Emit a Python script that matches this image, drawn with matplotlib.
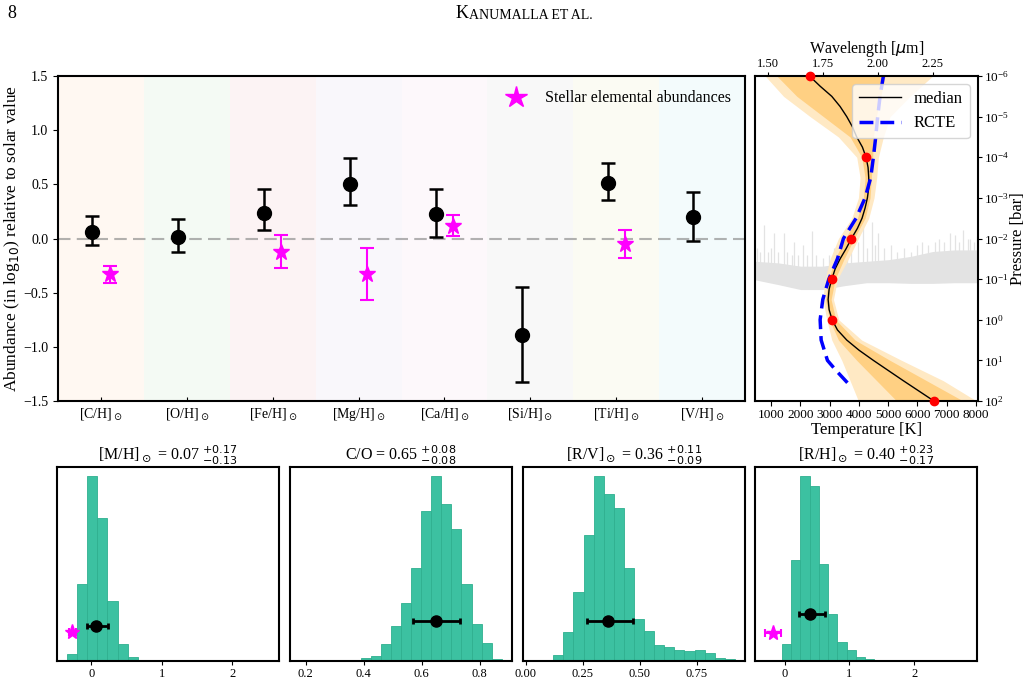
import numpy as np
import matplotlib.pyplot as plt
from matplotlib.lines import Line2D
from matplotlib.ticker import NullLocator, FixedLocator

plt.rcParams['font.family'] = ['Liberation Serif', 'DejaVu Serif']
plt.rcParams['mathtext.fontset'] = 'dejavusans'

# ---- elemental abundances (planet retrieval vs. host star) ----
elements = ['[C/H]', '[O/H]', '[Fe/H]', '[Mg/H]', '[Ca/H]', '[Si/H]', '[Ti/H]', '[V/H]']
planet_val = [0.06, 0.01, 0.24, 0.50, 0.23, -0.89, 0.51, 0.20]
planet_up = [0.15, 0.17, 0.22, 0.24, 0.23, 0.44, 0.19, 0.23]
planet_lo = [0.12, 0.13, 0.16, 0.19, 0.22, 0.43, 0.15, 0.22]
star_idx = [0, 2, 3, 4, 6]
star_val = [-0.33, -0.12, -0.33, 0.12, -0.05]
star_err = [0.08, 0.15, 0.24, 0.10, 0.13]
band_colors = ['tab:orange', 'tab:green', 'tab:red', 'tab:purple',
               'tab:pink', 'tab:gray', 'tab:olive', 'tab:cyan']

# ---- P-T profile (log10 P [bar] vs T [K]) ----
med_logp = [-6, -5.75, -5.5, -5.25, -5, -4.75, -4.5, -4.25, -4, -3.75, -3.5, -3.25, -3, -2.75,
            -2.5, -2.25, -2, -1.75, -1.5, -1.25, -1, -0.75, -0.5, -0.25, 0, 0.25, 0.5, 0.75,
            1, 1.25, 1.5, 1.75, 2]
t_med = [2317, 2680, 3078, 3362, 3590, 3783, 3930, 4124, 4249, 4317, 4340, 4340, 4294, 4215,
         4112, 3953, 3749, 3567, 3362, 3192, 3078, 2987, 2953, 2987, 3090, 3271, 3590, 4010,
         4499, 5010, 5521, 6044, 6567]
logp = [-6, -5.5, -5, -4.5, -4, -3.5, -3, -2.5, -2, -1.5, -1, -0.5, 0, 0.5, 1, 1.5, 2]
t_1lo = [1203, 1885, 2794, 3703, 4101, 4215, 4158, 3953, 3533, 3192, 2965, 2862, 2999, 3305, 3930, 4612, 5294]
t_1hi = [4900, 4750, 4600, 4499, 4476, 4430, 4385, 4215, 3840, 3499, 3192, 3055, 3215, 3874, 5067, 6317, 7567]
t_2lo = [805, 1430, 2340, 3305, 3930, 4044, 3987, 3760, 3305, 3021, 2851, 2771, 2908, 3078, 3419, 3703, 3987]
t_2hi = [6522, 5749, 5067, 4840, 4669, 4612, 4521, 4340, 3987, 3646, 3271, 3135, 3317, 4101, 5465, 6885, 8022]
node_logp = [-6, -4, -2, -1, 0, 2]
node_t = [2317, 4249, 3749, 3078, 3090, 6567]
rcte_logp = [-6, -5.5, -5, -4.5, -4, -3.5, -3, -2.5, -2, -1.5, -1, -0.5, 0, 0.5, 1, 1.25, 1.55]
rcte_t = [4840, 4726, 4646, 4578, 4499, 4408, 4215, 3908, 3476, 3271, 2976, 2771, 2680, 2715, 2930, 3226, 3612]

# ---- background spectrum (fraction of panel height) ----
spec_wl = [1.443, 1.55, 1.65, 1.75, 1.85, 1.95, 2.05, 2.15, 2.25, 2.35, 2.456]
spec_lo = [0.373, 0.358, 0.343, 0.343, 0.355, 0.364, 0.364, 0.362, 0.362, 0.364, 0.364]
spec_hi = [0.43, 0.425, 0.415, 0.415, 0.425, 0.43, 0.435, 0.445, 0.46, 0.465, 0.465]
spike_wl = [1.452, 1.468, 1.482, 1.50, 1.515, 1.530, 1.548, 1.573, 1.59, 1.61, 1.62, 1.64,
            1.66, 1.68, 1.701, 1.72, 1.75, 1.78, 1.80, 1.83, 1.86, 1.88, 1.91, 1.936, 1.95,
            1.974, 1.99, 2.004, 2.03, 2.06, 2.09, 2.12, 2.15, 2.18, 2.20, 2.23, 2.26, 2.28,
            2.30, 2.329, 2.35, 2.37, 2.389, 2.41, 2.42, 2.44, 2.45]
spike_top = [0.47, 0.46, 0.542, 0.46, 0.47, 0.518, 0.46, 0.518, 0.46, 0.45, 0.49, 0.45,
             0.48, 0.45, 0.522, 0.45, 0.44, 0.45, 0.47, 0.46, 0.45, 0.50, 0.49, 0.548, 0.47,
             0.552, 0.48, 0.518, 0.47, 0.48, 0.46, 0.47, 0.46, 0.48, 0.49, 0.48, 0.49, 0.50,
             0.49, 0.518, 0.51, 0.49, 0.527, 0.50, 0.50, 0.49, 0.508]

# ---- posterior histograms (20 bins each) ----
hist_titles = [r'[M/H]$_\odot$ = 0.07 $^{+0.17}_{-0.13}$',
               r'C/O = 0.65 $^{+0.08}_{-0.08}$',
               r'[R/V]$_\odot$ = 0.36 $^{+0.11}_{-0.09}$',
               r'[R/H]$_\odot$ = 0.40 $^{+0.23}_{-0.17}$']
hist_ranges = [(-0.342, 2.52), (0.18, 0.876), (0.032, 0.918), (-0.04, 2.81)]
hist_counts = [
    [21, 234, 558, 431, 180, 51, 12, 4, 2, 1, 1, 1, 1, 1, 1, 1, 1, 1, 1, 1],
    [4, 0, 4, 0, 4, 0, 10, 16, 52, 106, 175, 282, 454, 559, 476, 400, 232, 113, 53, 7],
    [2, 4, 18, 87, 208, 382, 559, 506, 463, 281, 126, 91, 49, 42, 33, 31, 34, 23, 10, 6],
    [52, 307, 559, 530, 292, 142, 58, 34, 13, 6, 2, 2, 1, 1, 1, 1, 1, 1, 4, 1],
]
hist_ticks = [[0, 1, 2], [0.2, 0.4, 0.6, 0.8], [0.0, 0.25, 0.5, 0.75], [0, 1, 2]]
hist_ticklabels = [['0', '1', '2'], ['0.2', '0.4', '0.6', '0.8'],
                   ['0.00', '0.25', '0.50', '0.75'], ['0', '1', '2']]
med_val = [0.07, 0.65, 0.36, 0.40]
med_lo = [0.13, 0.08, 0.09, 0.17]
med_up = [0.17, 0.08, 0.11, 0.23]
med_y = [106, 121, 121, 142]
hstar_panel = [0, 3]
hstar_val = [-0.27, -0.18]
hstar_err = [0.05, 0.12]
hstar_y = [88, 84]

fig = plt.figure(figsize=(10.29, 6.82), dpi=100)

# page header
fig.text(0.007, 0.992, '8', fontsize=13, va='top')
fig.text(0.4425, 0.992, 'K', fontsize=13, va='top')
fig.text(0.4555, 0.987, 'ANUMALLA ET AL.', fontsize=10, va='top')

# ---------- abundance panel ----------
ax = fig.add_axes([0.0564, 0.412, 0.6676, 0.4765])
xpos = np.arange(len(elements))
for i, c in enumerate(band_colors):
    ax.axvspan(i - 0.5, i + 0.5, color=c, alpha=0.05, lw=0)
ax.axhline(0, color='gray', ls='--', lw=1.5, alpha=0.6, dashes=(6, 3))
ax.errorbar(xpos - 0.1, planet_val, yerr=[planet_lo, planet_up], fmt='o', color='black',
            ms=10, capsize=5, elinewidth=1.8, capthick=1.8)
ax.errorbar(xpos[star_idx] + 0.1, star_val, yerr=star_err, fmt='*', color='magenta',
            ms=12, capsize=5, elinewidth=1.5, capthick=1.5)
ax.set_xlim(-0.5, 7.5)
ax.set_ylim(-1.5, 1.5)
ax.set_xticks(xpos)
ax.set_xticklabels([e + r'$_\odot$' for e in elements])
ax.set_yticks([-1.5, -1.0, -0.5, 0.0, 0.5, 1.0, 1.5])
ax.tick_params(axis='both', labelsize=10)
ax.tick_params(axis='x', direction='in', length=3)
ax.set_ylabel(r'Abundance (in log$_{10}$) relative to solar value', fontsize=12.5, labelpad=1)
for s in ax.spines.values():
    s.set_linewidth(1.5)
h = Line2D([], [], marker='*', color='magenta', ls='none', ms=16)
ax.legend([h], ['Stellar elemental abundances'], loc='upper right', frameon=False, fontsize=11.5)

# ---------- P-T panel ----------
pos = [0.7337, 0.412, 0.2167, 0.4765]
ax_sp = fig.add_axes(pos)
ax_sp.fill_between(spec_wl, spec_lo, spec_hi, color='#e3e3e3', lw=0)
ax_sp.vlines(spike_wl, 0.40, spike_top, color='#e3e3e3', lw=0.9)
ax_sp.set_xlim(1.443, 2.456)
ax_sp.set_ylim(0, 1)
ax_sp.xaxis.set_ticks_position('top')
ax_sp.xaxis.set_label_position('top')
ax_sp.set_xticks([1.50, 1.75, 2.00, 2.25])
ax_sp.set_xticklabels(['1.50', '1.75', '2.00', '2.25'])
ax_sp.tick_params(axis='x', labelsize=9, pad=1, length=3)
ax_sp.set_xlabel(r'Wavelength [$\mu$m]', fontsize=11.5, labelpad=4)
ax_sp.set_yticks([])
for s in ax_sp.spines.values():
    s.set_visible(False)

ax_pt = fig.add_axes(pos)
ax_pt.patch.set_visible(False)
p = 10.0 ** np.array(logp)
ax_pt.fill_betweenx(p, t_2lo, t_2hi, color='#ffe9c4', lw=0)
ax_pt.fill_betweenx(p, t_1lo, t_1hi, color='#ffd083', lw=0)
ax_pt.plot(t_med, 10.0 ** np.array(med_logp), color='black', lw=1, label='median')
ax_pt.plot(rcte_t, 10.0 ** np.array(rcte_logp), color='blue', ls='--', lw=2.5,
           dashes=(4, 2), label='RCTE')
ax_pt.plot(node_t, 10.0 ** np.array(node_logp), 'o', color='red', ms=6, clip_on=False, zorder=5)
ax_pt.set_yscale('log')
ax_pt.set_ylim(1e2, 1e-6)
ax_pt.set_xlim(455, 8070)
ax_pt.yaxis.set_major_locator(FixedLocator(10.0 ** np.arange(-6, 3)))
ax_pt.yaxis.set_minor_locator(NullLocator())
ax_pt.yaxis.tick_right()
ax_pt.yaxis.set_label_position('right')
ax_pt.set_xticks(np.arange(1000, 8001, 1000))
ax_pt.tick_params(axis='x', labelsize=9.5, pad=2)
ax_pt.tick_params(axis='y', labelsize=9.5, pad=1, length=3)
ax_pt.set_xlabel('Temperature [K]', fontsize=12, labelpad=1)
ax_pt.set_ylabel('Pressure [bar]', fontsize=12, labelpad=1)
for s in ax_pt.spines.values():
    s.set_linewidth(1.5)
ax_pt.legend(loc='upper right', fontsize=12, framealpha=0.8, handlelength=2.5)

# ---------- posterior histograms ----------
lefts = [0.0554, 0.2818, 0.5083, 0.7337]
for k in range(4):
    axh = fig.add_axes([lefts[k], 0.0308, 0.2157, 0.2845])
    edges = np.linspace(hist_ranges[k][0], hist_ranges[k][1], len(hist_counts[k]) + 1)
    centers = 0.5 * (edges[1:] + edges[:-1])
    axh.hist(centers, bins=edges, weights=hist_counts[k], color='#3cc1a1',
             edgecolor='#2fb08f', linewidth=0.6)
    axh.errorbar(med_val[k], med_y[k], xerr=[[med_lo[k]], [med_up[k]]], fmt='o', color='black',
                 ms=8, capsize=2, elinewidth=2, capthick=2)
    if k in hstar_panel:
        j = hstar_panel.index(k)
        axh.errorbar(hstar_val[j], hstar_y[j], xerr=hstar_err[j], fmt='*', color='magenta',
                     ms=11, capsize=3, elinewidth=1.5, capthick=1.5)
    axh.set_xticks(hist_ticks[k])
    axh.set_xticklabels(hist_ticklabels[k])
    axh.set_yticks([])
    axh.tick_params(axis='x', labelsize=9, length=3, pad=2)
    axh.set_title(hist_titles[k], fontsize=11.5, pad=3)
    for s in axh.spines.values():
        s.set_linewidth(1.5)

fig.savefig('out.png', dpi=100)
